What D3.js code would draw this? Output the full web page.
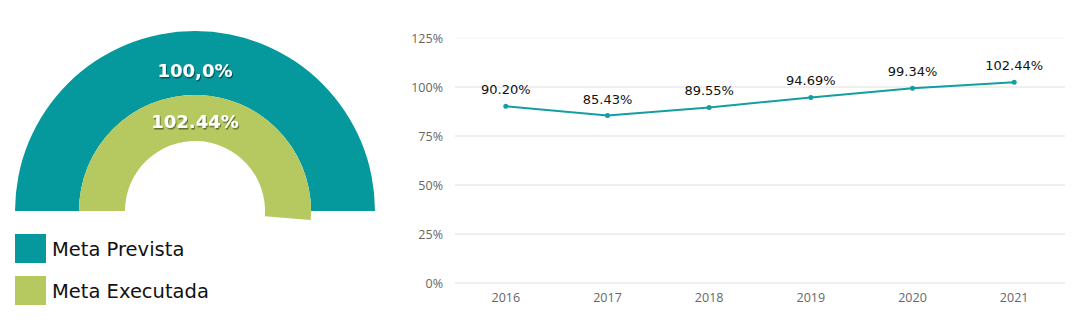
<!DOCTYPE html>
<html>
<head>
<meta charset="utf-8">
<script src="https://cdn.jsdelivr.net/npm/d3@7/dist/d3.min.js"></script>
<style>
  html, body { margin: 0; padding: 0; background: #fff; }
  svg { display: block; }
</style>
</head>
<body>
<svg id="chart" width="1080" height="332"></svg>
<script>
// Gauge values
const gaugeSeries = ["Meta Prevista", "Meta Executada"];
const gaugeValues = [100.0, 102.44];
const gaugeLabels = ["100,0%", "102.44%"];
const gaugeColors = ["#05999d", "#b5c960"];

// Yearly execution line
const years = ["2016", "2017", "2018", "2019", "2020", "2021"];
const execValues = [90.20, 85.43, 89.55, 94.69, 99.34, 102.44];
const execLabels = ["90.20%", "85.43%", "89.55%", "94.69%", "99.34%", "102.44%"];
const yTicks = [0, 25, 50, 75, 100, 125];

const svg = d3.select("#chart");
const labelFont = "'DejaVu Sans', sans-serif";

// ---------- Half-donut gauge ----------
const cx = 195, cy = 211;
const rings = [
  { inner: 116, outer: 180 },
  { inner: 70, outer: 116 }
];
const angle = d3.scaleLinear().domain([0, 100]).range([-Math.PI / 2, Math.PI / 2]);

const defs = svg.append("defs");
const shadow = defs.append("filter").attr("id", "txtShadow")
  .attr("x", "-20%").attr("y", "-20%").attr("width", "140%").attr("height", "160%");
shadow.append("feDropShadow").attr("dx", 1).attr("dy", 1.5).attr("stdDeviation", 0.6)
  .attr("flood-color", "#000").attr("flood-opacity", 0.45);

const gauge = svg.append("g").attr("transform", `translate(${cx},${cy})`);
gaugeValues.forEach((v, i) => {
  const arc = d3.arc()
    .innerRadius(rings[i].inner)
    .outerRadius(rings[i].outer)
    .startAngle(angle(0))
    .endAngle(angle(v));
  gauge.append("path").attr("d", arc()).attr("fill", gaugeColors[i]);
});

const gaugeLabelY = [72, 123];
gaugeLabels.forEach((t, i) => {
  svg.append("text")
    .attr("x", cx).attr("y", gaugeLabelY[i])
    .attr("text-anchor", "middle").attr("dominant-baseline", "middle")
    .attr("font-family", labelFont).attr("font-size", 18).attr("font-weight", "bold")
    .attr("fill", "#fff").attr("filter", "url(#txtShadow)")
    .text(t);
});

// Legend
const legend = svg.append("g");
gaugeSeries.forEach((s, i) => {
  const y0 = 234 + i * 42;
  legend.append("rect").attr("x", 15).attr("y", y0).attr("width", 31).attr("height", 29)
    .attr("fill", gaugeColors[i]);
  legend.append("text").attr("x", 52).attr("y", y0 + 16)
    .attr("dominant-baseline", "middle")
    .attr("font-family", labelFont).attr("font-size", 19.5)
    .attr("fill", "#111").text(s);
});

// ---------- Line chart ----------
const x = d3.scaleBand().domain(years).range([455, 1065]);
const y = d3.scaleLinear().domain([0, 125]).range([283, 38]);

const grid = svg.append("g");
yTicks.forEach(t => {
  grid.append("line")
    .attr("x1", 455).attr("x2", 1065)
    .attr("y1", y(t)).attr("y2", y(t))
    .attr("stroke", t === 125 ? "#f3f3f3" : "#dedede").attr("stroke-width", 1);
});

const yAxis = svg.append("g").attr("transform", "translate(446,0)")
  .call(d3.axisLeft(y).tickValues(yTicks).tickSize(0).tickFormat(d => d + "%"));
yAxis.select(".domain").remove();
yAxis.selectAll("text")
  .attr("font-family", "'Open Sans', sans-serif").attr("font-size", 12.5)
  .attr("fill", "#666");

const xAxis = svg.append("g").attr("transform", "translate(0,290)")
  .call(d3.axisBottom(x).tickSize(0));
xAxis.select(".domain").remove();
xAxis.selectAll("text")
  .attr("font-family", "'Open Sans', sans-serif").attr("font-size", 12.5)
  .attr("fill", "#666").attr("dy", "0.71em");

const cxOf = d => x(d) + x.bandwidth() / 2;
const line = d3.line().x((d, i) => cxOf(years[i])).y(d => y(d));

svg.append("path").datum(execValues)
  .attr("d", line).attr("fill", "none")
  .attr("stroke", "#149ea1").attr("stroke-width", 2);

svg.selectAll("circle.pt").data(execValues).enter().append("circle")
  .attr("class", "pt")
  .attr("cx", (d, i) => cxOf(years[i])).attr("cy", d => y(d))
  .attr("r", 2.5).attr("fill", "#149ea1");

svg.selectAll("text.val").data(execValues).enter().append("text")
  .attr("class", "val")
  .attr("x", (d, i) => cxOf(years[i])).attr("y", d => y(d) - 12)
  .attr("text-anchor", "middle")
  .attr("font-family", labelFont).attr("font-size", 13)
  .attr("fill", "#111")
  .text((d, i) => execLabels[i]);
</script>
</body>
</html>
